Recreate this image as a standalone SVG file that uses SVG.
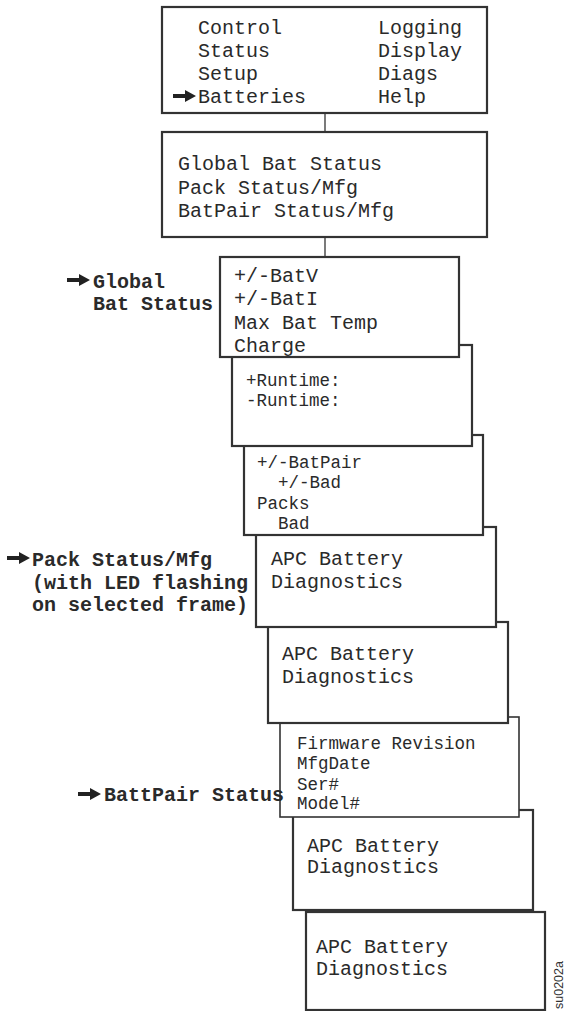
<svg xmlns="http://www.w3.org/2000/svg" xmlns:xlink="http://www.w3.org/1999/xlink" width="564" height="1011" viewBox="0 0 564 1011">
<style>
.box{fill:#fff;stroke:#333;stroke-width:2.2}
.t{font-family:"Liberation Mono","Courier New",monospace;font-size:20px;fill:#2a2a2a}
.s{font-family:"Liberation Mono","Courier New",monospace;font-size:17.5px;fill:#2a2a2a}
.b{font-family:"Liberation Mono","Courier New",monospace;font-size:20px;font-weight:bold;fill:#2a2a2a}
.c{stroke:#333;stroke-width:1.3;fill:none}
.id{font-family:"Liberation Sans",Arial,sans-serif;font-size:12.5px;fill:#333}
</style>
<defs>
<path id="arr" d="M0,-2 L12,-2 L12,-6 L23,0 L12,6 L12,2 L0,2 Z" fill="#222"/>
</defs>
<g id="connectors">
<line class="c" x1="325" y1="113" x2="325" y2="132"/>
<line class="c" x1="325" y1="237" x2="325" y2="257"/>
</g>
<g id="menu">
<rect class="box" x="162" y="7" width="325" height="106"/>
<text class="t" x="198" y="34">Control</text>
<text class="t" x="198" y="57">Status</text>
<text class="t" x="198" y="80">Setup</text>
<text class="t" x="198" y="103">Batteries</text>
<text class="t" x="378" y="34">Logging</text>
<text class="t" x="378" y="57">Display</text>
<text class="t" x="378" y="80">Diags</text>
<text class="t" x="378" y="103">Help</text>
<use xlink:href="#arr" x="173" y="96"/>
</g>
<g id="batmenu">
<rect class="box" x="162" y="132" width="325" height="105"/>
<text class="t" x="178" y="170">Global Bat Status</text>
<text class="t" x="178" y="194">Pack Status/Mfg</text>
<text class="t" x="178" y="217">BatPair Status/Mfg</text>
</g>
<g id="box10">
<rect class="box" x="306" y="912" width="239" height="98"/>
<text class="t" x="316" y="953">APC Battery</text>
<text class="t" x="316" y="975">Diagnostics</text>
</g>
<g id="box9">
<rect class="box" x="293" y="810" width="240" height="100"/>
<text class="t" x="307" y="852">APC Battery</text>
<text class="t" x="307" y="873">Diagnostics</text>
</g>
<g id="box8">
<rect class="box" x="280" y="717" width="239" height="100" style="stroke-width:1.6"/>
<text class="s" x="297" y="749">Firmware Revision</text>
<text class="s" x="297" y="769">MfgDate</text>
<text class="s" x="297" y="790">Ser#</text>
<text class="s" x="297" y="809">Model#</text>
</g>
<g id="box7">
<rect class="box" x="268" y="622" width="240" height="101"/>
<text class="t" x="282" y="660">APC Battery</text>
<text class="t" x="282" y="683">Diagnostics</text>
</g>
<g id="box6">
<rect class="box" x="256" y="527" width="240" height="100"/>
<text class="t" x="271" y="565">APC Battery</text>
<text class="t" x="271" y="588">Diagnostics</text>
</g>
<g id="box5">
<rect class="box" x="244" y="435" width="239" height="100"/>
<text class="s" x="257" y="468">+/-BatPair</text>
<text class="s" x="278" y="488">+/-Bad</text>
<text class="s" x="257" y="509">Packs</text>
<text class="s" x="278" y="529">Bad</text>
</g>
<g id="box4">
<rect class="box" x="232" y="345" width="240" height="101"/>
<text class="s" x="246" y="386">+Runtime:</text>
<text class="s" x="246" y="406">-Runtime:</text>
</g>
<g id="box3">
<rect class="box" x="220" y="257" width="239" height="100"/>
<text class="t" x="234" y="282">+/-BatV</text>
<text class="t" x="234" y="305">+/-BatI</text>
<text class="t" x="234" y="329">Max Bat Temp</text>
<text class="t" x="234" y="352">Charge</text>
</g>
<g id="label-global">
<use xlink:href="#arr" x="67" y="280"/>
<text class="b" x="93" y="288">Global</text>
<text class="b" x="93" y="310">Bat Status</text>
</g>
<g id="label-pack">
<use xlink:href="#arr" x="7" y="558"/>
<text class="b" x="32" y="566">Pack Status/Mfg</text>
<text class="b" x="32" y="589">(with LED flashing</text>
<text class="b" x="32" y="611">on selected frame)</text>
</g>
<g id="label-battpair">
<use xlink:href="#arr" x="78" y="794"/>
<text class="b" x="104" y="801">BattPair Status</text>
</g>
<text class="id" transform="translate(563,1009) rotate(-90)">su0202a</text>
</svg>
